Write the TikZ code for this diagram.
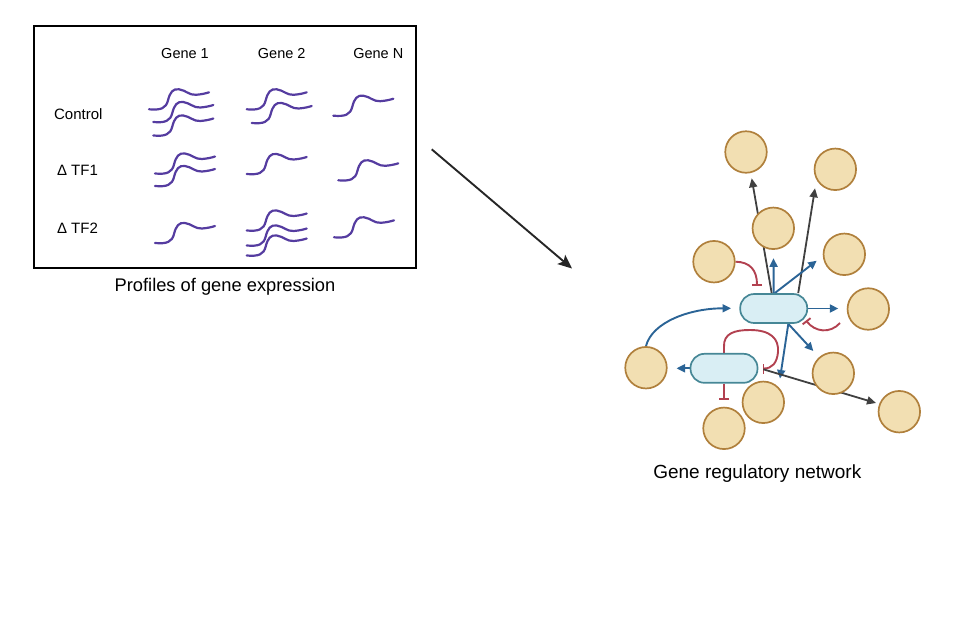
\documentclass[tikz,border=0pt]{standalone}
\usepackage{fontspec}
\setmainfont{Liberation Sans}
\usetikzlibrary{arrows.meta,calc}
\pgfdeclarelayer{bg}
\pgfsetlayers{bg,main}
\definecolor{cfill}{RGB}{242,223,178}
\definecolor{cdraw}{RGB}{176,128,60}
\definecolor{pfill}{RGB}{217,238,244}
\definecolor{pdraw}{RGB}{70,135,150}
\definecolor{cblue}{RGB}{43,100,150}
\definecolor{cred}{RGB}{178,65,80}
\definecolor{cgray}{RGB}{64,64,64}
\definecolor{cpurp}{RGB}{85,60,160}
\tikzset{
  gene/.style={circle,fill=cfill,draw=cdraw,line width=1.7pt,minimum size=41.5pt,inner sep=0pt},
  tf/.style={rectangle,rounded corners=14pt,fill=pfill,draw=pdraw,line width=1.7pt,minimum width=67pt,minimum height=29pt,inner sep=0pt},
  act/.style={cblue,line width=1.9pt,-{Triangle[length=8.5pt,width=8pt]}},
  inh/.style={cred,line width=1.9pt,-{Bar[width=10pt,line width=1.9pt]}},
  grayarr/.style={cgray,line width=1.8pt,-{Triangle[length=9pt,width=8pt]}},
  sigline/.style={cpurp,line width=2.2pt,line cap=round},
  sig/.pic={\draw[sigline] (0,0) .. controls (12,1) and (17,-1) .. (19,-9) .. controls (21,-17) and (24,-21) .. (30,-20) .. controls (37,-19) and (40,-14) .. (47,-14.5) .. controls (53,-15) and (57,-16) .. (60,-17);},
  hdr/.style={font=\fontsize{14.5}{17}\selectfont,inner sep=0pt},
  rowlab/.style={font=\fontsize{15}{18}\selectfont,inner sep=0pt},
  captext/.style={font=\fontsize{18.3}{22}\selectfont,inner sep=0pt}
}
\begin{document}
\begin{tikzpicture}[x=1pt,y=-1pt]
\useasboundingbox (0,0) rectangle (960,625);
% left panel
\node[draw=black,line width=1.8pt,minimum width=382pt,minimum height=242pt,inner sep=0pt] (panel) at (225.3,147.2) {};
\node[hdr] (h1) at (185,53.5) {Gene 1};
\node[hdr] (h2) at (281.7,53.5) {Gene 2};
\node[hdr] (h3) at (378.3,53.5) {Gene N};
\node[rowlab] (l1) at (78.3,114.3) {Control};
\node[rowlab] (l2) at (77.5,170.7) {Δ TF1};
\node[rowlab] (l3) at (77.5,228.3) {Δ TF2};
\node[captext] (capL) at (225,287) {Profiles of gene expression};
% curves: Gene 1
\pic at (149,109.3) {sig};
\pic at (153.3,122) {sig};
\pic at (153.3,135.5) {sig};
\pic at (155,173.5) {sig};
\pic at (155,186) {sig};
\pic at (155,243) {sig};
% Gene 2
\pic at (246.7,109.3) {sig};
\pic at (251.7,123) {sig};
\pic at (246.7,174) {sig};
\pic at (246.7,230.5) {sig};
\pic at (246.7,245.5) {sig};
\pic at (246.7,255.5) {sig};
% Gene N
\pic at (333.3,115.7) {sig};
\pic at (338.3,180.3) {sig};
\pic at (334,237.3) {sig};
% main arrow
\coordinate (m1) at (431.7,149.3);
\coordinate (m2) at (572,268.5);
\draw[black!85,line width=1.9pt,-{Stealth[length=14pt,width=12pt,inset=3pt]}] (m1) -- (m2);
% network nodes
\node[tf] (p1) at (773.7,308.5) {};
\node[tf] (p2) at (724,368.3) {};
\node[gene] (c1) at (746,152) {};
\node[gene] (c2) at (835.3,169.3) {};
\node[gene] (c3) at (773.3,228.3) {};
\node[gene] (c4) at (844.3,254.3) {};
\node[gene] (c5) at (714,261.7) {};
\node[gene] (c6) at (868.3,309) {};
\node[gene] (c7) at (646,367.7) {};
\node[gene] (c8) at (833.3,373.3) {};
\node[gene] (c9) at (763.3,402.3) {};
\node[gene] (c10) at (899.3,411.7) {};
\node[gene] (c11) at (724,428.3) {};
\node[captext,font=\fontsize{19}{22}\selectfont] (capR) at (757.3,474) {Gene regulatory network};
% free ends
\coordinate (t1) at (751.7,178.3);
\coordinate (t2) at (815,188.3);
\coordinate (t3) at (773.5,258.3);
\coordinate (t4) at (816.7,260.7);
\coordinate (t5) at (838.3,308.5);
\coordinate (t6) at (806,320.5);
\coordinate (s6) at (840,323);
\coordinate (t7) at (757,286);
\coordinate (t8) at (731,308.3);
\coordinate (t9) at (813.3,351);
\coordinate (t10) at (780,378.5);
\coordinate (t11) at (762.5,368.5);
\coordinate (t12) at (876,403);
\coordinate (t13) at (676.5,368.3);
\coordinate (t14) at (724,399.5);
\coordinate (s1) at ($(p1.north)+(-2,0)$);
\coordinate (s2) at ($(p1.north)+(24.5,0)$);
\coordinate (s3) at ($(p1.south)+(14.6,0)$);
\coordinate (s4) at ($(p2.east)+(5,1)$);
\begin{pgfonlayer}{bg}
\draw[grayarr] (s1) -- (t1);
\draw[grayarr] (s2) -- (t2);
\draw[act] (p1.north) -- (t3);
\draw[act] ($(p1.north)+(1,0)$) -- (t4);
\draw[act] (p1.east) -- (t5);
\draw[inh] (s6) .. controls (830,334) and (815,332) .. (t6);
\draw[inh] (c5.east) .. controls (750,262) and (757,270) .. (t7);
\draw[act] (c7.north) .. controls (652,322) and (690,308.3) .. (t8);
\draw[act] (s3) -- (t9);
\draw[act] (s3) -- (t10);
\draw[inh] (p2.north) -- ++(0,-6) .. controls (723.3,333) and (735,330) .. (750,330) .. controls (771,330) and (779,339) .. (778,352) .. controls (777,363) and (772,368.5) .. (t11);
\draw[grayarr] (s4) -- (t12);
\draw[act] (p2.west) -- (t13);
\draw[inh] (p2.south) -- (t14);
\end{pgfonlayer}
\end{tikzpicture}
\end{document}
